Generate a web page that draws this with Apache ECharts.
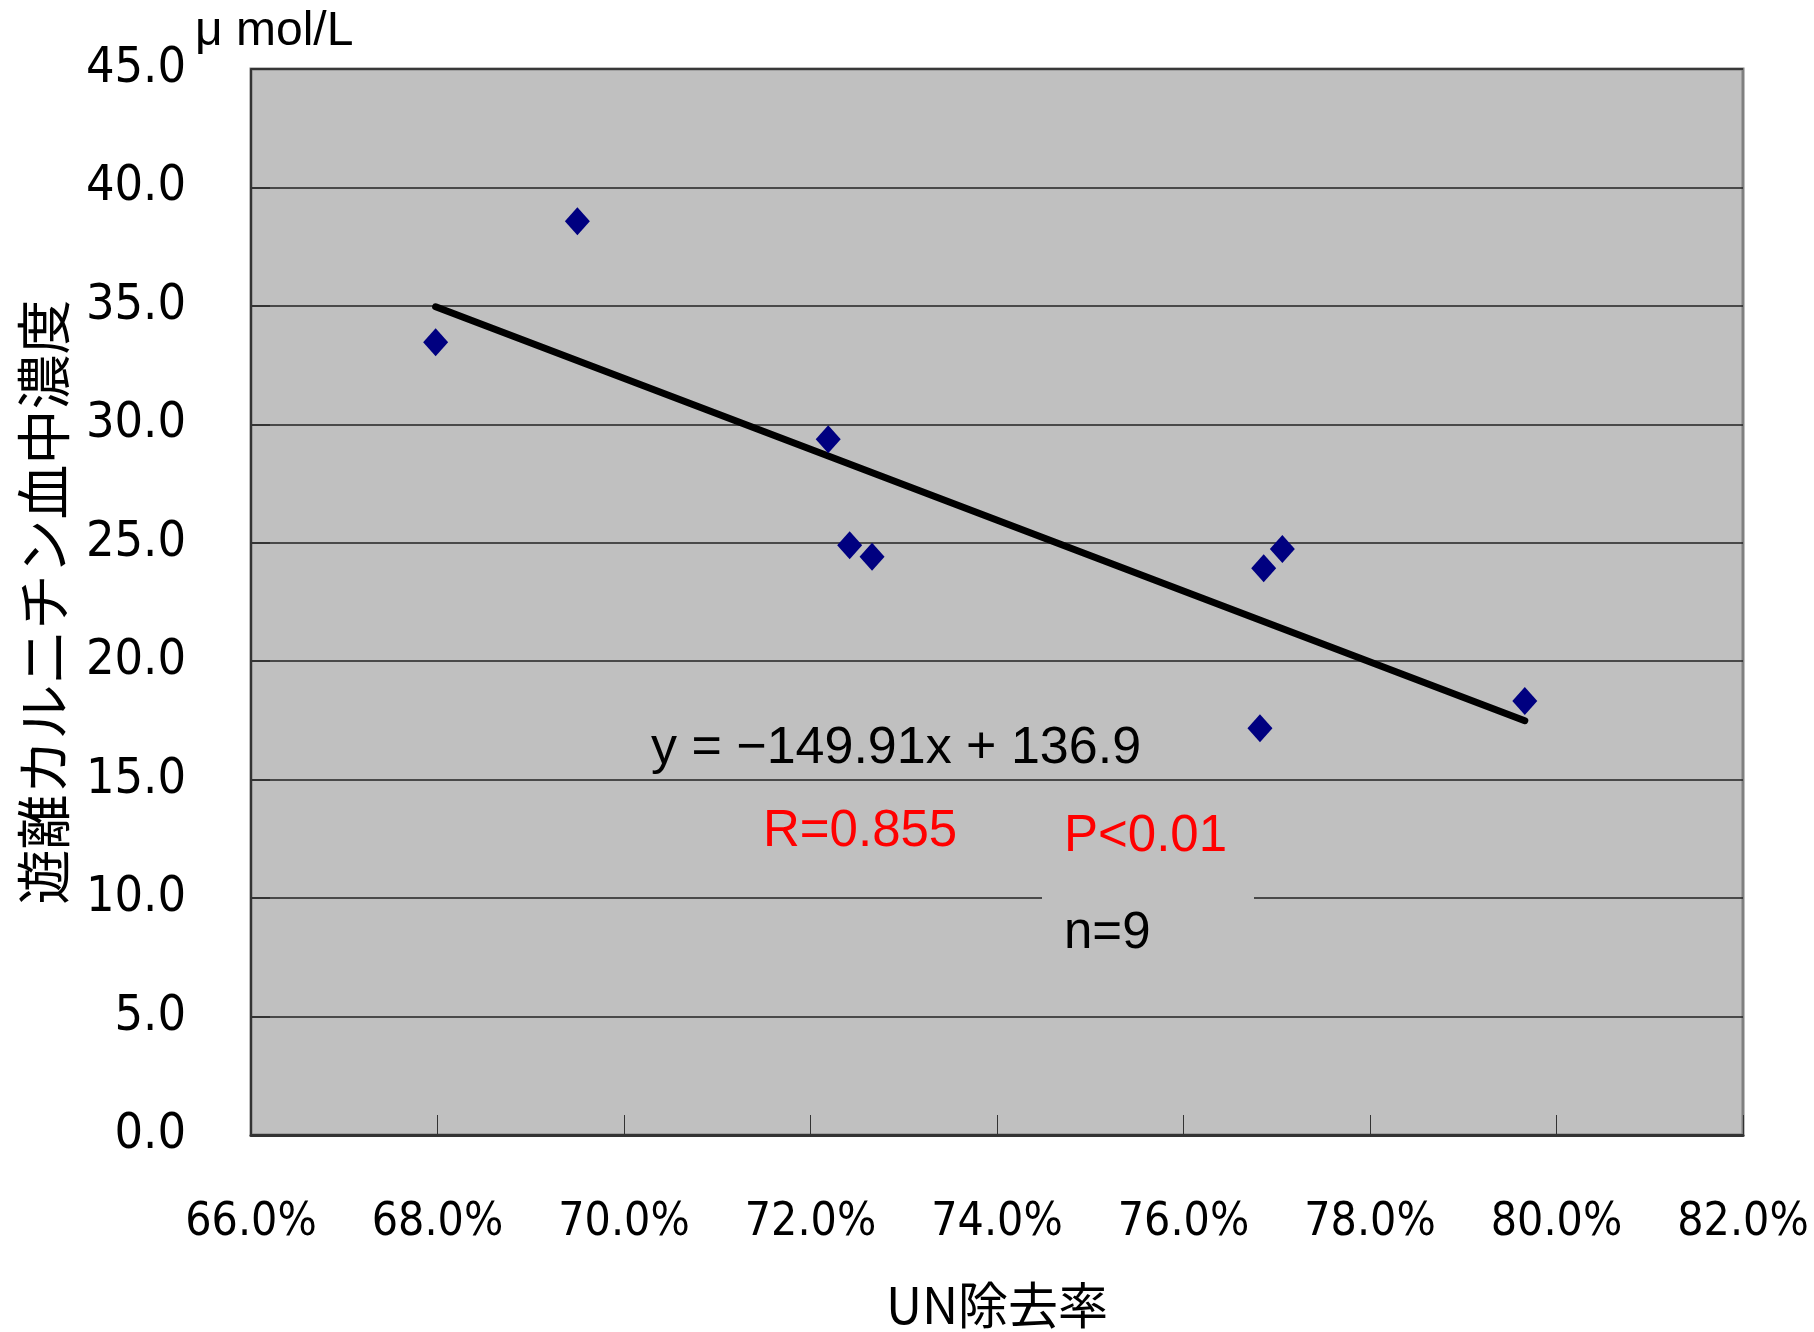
<!DOCTYPE html>
<html>
<head>
    <meta http-equiv="Content-Type" content="text/html; charset=utf-8">
    <title>UN除去率と遊離カルニチン</title>
    <script src="https://cdn.jsdelivr.net/npm/echarts@6/dist/echarts.min.js"></script>
    <style>
        body {margin:0; background:#fff;}
    </style>
</head>
<body>
    <div id="main" style="width: 1814px;height:1332px;"></div>
    <script type="text/javascript">
        // UN除去率 (%) と 遊離カルニチン血中濃度 (μmol/L)
        var unRemoval = [67.98, 69.50, 72.19, 72.42, 72.66, 76.86, 77.06, 76.82, 79.66];
        var carnitine = [33.46, 38.57, 29.37, 24.90, 24.41, 23.92, 24.74, 17.17, 18.32];
        // 近似直線 y = -149.91x + 136.9 の両端
        var trendX = [67.98, 79.66];
        var trendY = [34.96, 17.49];
        var xTicks = ['66.0%', '68.0%', '70.0%', '72.0%', '74.0%', '76.0%', '78.0%', '80.0%', '82.0%'];
        var yTicks = ['0.0', '5.0', '10.0', '15.0', '20.0', '25.0', '30.0', '35.0', '40.0', '45.0'];

        var narrow = "'Liberation Sans Narrow', 'DejaVu Sans Condensed', 'Liberation Sans', sans-serif";
        var jp = "'Noto Sans CJK JP', sans-serif";

        var myChart = echarts.init(document.getElementById('main'));

        var option = {
            backgroundColor: '#fff',
            animation: false,
            grid: {
                left: 251, right: 71, top: 69, bottom: 197,
                outerBoundsMode: 'none',
                show: true, backgroundColor: '#c0c0c0',
                borderColor: '#808080', borderWidth: 3
            },
            xAxis: {
                type: 'value', min: 66, max: 82, interval: 2,
                name: 'UN除去率', nameLocation: 'middle', nameGap: 145,
                nameTextStyle: {fontFamily: jp, fontSize: 50, color: '#000'},
                axisLine: {lineStyle: {color: '#333', width: 3}},
                axisTick: {inside: true, length: 20, lineStyle: {color: '#333', width: 1}},
                axisLabel: {
                    margin: 65, fontFamily: narrow, fontSize: 46, color: '#000',
                    formatter: function (v) { return xTicks[Math.round((v - 66) / 2)]; }
                },
                splitLine: {show: false}
            },
            yAxis: {
                type: 'value', min: 0, max: 45, interval: 5,
                name: '遊離カルニチン血中濃度', nameLocation: 'middle', nameRotate: 90, nameGap: 180,
                nameTextStyle: {fontFamily: jp, fontSize: 55, color: '#000'},
                axisLine: {show: true, lineStyle: {color: '#333', width: 2}},
                axisTick: {show: true, inside: true, length: 19, lineStyle: {color: '#333', width: 2}},
                axisLabel: {
                    margin: 65, fontFamily: narrow, fontSize: 50, color: '#000',
                    padding: [12, 0, 0, 0],
                    formatter: function (v) { return yTicks[Math.round(v / 5)]; }
                },
                splitLine: {lineStyle: {color: '#222', width: 1.5}}
            },
            graphic: [
                {type: 'text', left: 195, top: 8, z: 10,
                 style: {text: 'μ mol/L', fontFamily: "'Liberation Sans', sans-serif", fontSize: 48, fill: '#000'}},
                {type: 'rect', z: 5, shape: {x: 1042, y: 800, width: 212, height: 180}, style: {fill: '#c0c0c0'}},
                {type: 'text', x: 651, y: 749, z: 10,
                 style: {text: 'y = −149.91x + 136.9', fontFamily: "'Liberation Sans', sans-serif", fontSize: 52,
                         fill: '#000', verticalAlign: 'middle'}},
                {type: 'text', x: 763, y: 832, z: 10,
                 style: {text: 'R=0.855', fontFamily: "'Liberation Sans', sans-serif", fontSize: 51,
                         fill: '#ff0000', verticalAlign: 'middle'}},
                {type: 'text', x: 1064, y: 837, z: 10,
                 style: {text: 'P<0.01', fontFamily: "'Liberation Sans', sans-serif", fontSize: 51,
                         fill: '#ff0000', verticalAlign: 'middle'}},
                {type: 'text', x: 1064, y: 934, z: 10,
                 style: {text: 'n=9', fontFamily: "'Liberation Sans', sans-serif", fontSize: 51,
                         fill: '#000', verticalAlign: 'middle'}}
            ],
            series: [
                {
                    name: 'trend', type: 'line', z: 3,
                    data: trendX.map(function (x, i) { return [x, trendY[i]]; }),
                    showSymbol: false, symbol: 'none',
                    lineStyle: {color: '#000', width: 7, cap: 'round'}
                },
                {
                    name: 'data', type: 'scatter', z: 4,
                    symbol: 'diamond', symbolSize: [25, 28],
                    itemStyle: {color: '#000080', opacity: 1},
                    data: unRemoval.map(function (x, i) { return [x, carnitine[i]]; })
                }
            ]
        };

        myChart.setOption(option);
    </script>
</body>
</html>
